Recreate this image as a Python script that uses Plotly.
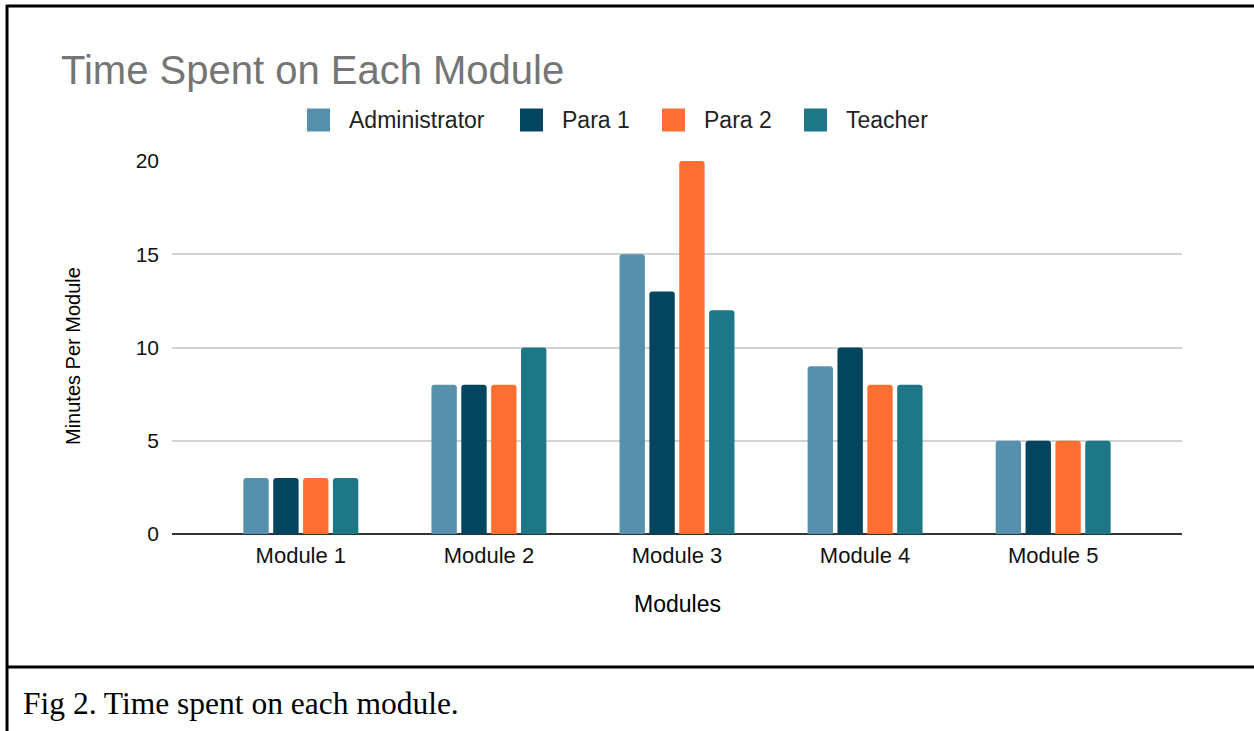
import plotly.graph_objects as go

# Chart data
modules = ["Module 1", "Module 2", "Module 3", "Module 4", "Module 5"]
roles = ["Administrator", "Para 1", "Para 2", "Teacher"]
administrator = [3, 8, 15, 9, 5]
para_1 = [3, 8, 13, 10, 5]
para_2 = [3, 8, 20, 8, 5]
teacher = [3, 10, 12, 8, 5]
y_ticks = [0, 5, 10, 15, 20]

series = [administrator, para_1, para_2, teacher]
colors = ["#5790ad", "#03445f", "#ff6f31", "#1e7786"]

W, H = 1254, 731
PL, PR, PT, PB = 172, 1182, 161, 534  # plot-area box in pixels

def px_x(x):
    return (x - PL) / (PR - PL)

def px_y(y):
    return (PB - y) / (PB - PT)

FONT = "Liberation Sans, Arial, sans-serif"

fig = go.Figure()
for name, vals, col in zip(roles, series, colors):
    fig.add_trace(go.Bar(x=modules, y=vals, name=name, marker_color=col,
                         marker_line_width=0, showlegend=False))

shapes = []
annotations = []

# Legend row: colour swatches and labels
legend_sq_x = [307, 520, 662, 804]
legend_txt_x = [347, 560, 702, 844]
legend_cy = 120
for name, col, sx, tx in zip(roles, colors, legend_sq_x, legend_txt_x):
    shapes.append(dict(type="rect", xref="paper", yref="paper",
                       x0=px_x(sx), x1=px_x(sx + 23),
                       y0=px_y(legend_cy + 11.5), y1=px_y(legend_cy - 11.5),
                       fillcolor=col, line_width=0))
    annotations.append(dict(text=name, xref="paper", yref="paper",
                            x=px_x(tx), y=px_y(legend_cy), xanchor="left",
                            yanchor="middle", showarrow=False,
                            font=dict(family=FONT, size=23, color="#222222")))

# Axis titles
annotations.append(dict(text="Minutes Per Module", xref="paper", yref="paper",
                        x=px_x(73), y=px_y(356), textangle=-90,
                        xanchor="center", yanchor="middle", showarrow=False,
                        font=dict(family=FONT, size=20, color="#000000")))
annotations.append(dict(text="Modules", xref="paper", yref="paper",
                        x=px_x(677), y=px_y(604), xanchor="center",
                        yanchor="middle", showarrow=False,
                        font=dict(family=FONT, size=23, color="#000000")))

# Figure caption below the frame
annotations.append(dict(text="Fig 2. Time spent on each module.", xref="paper",
                        yref="paper", x=px_x(21), y=px_y(703),
                        xanchor="left", yanchor="middle", showarrow=False,
                        font=dict(family="Liberation Serif, Times New Roman, serif",
                                  size=31.5, color="#000000")))

# Frame lines around the chart
frame = dict(color="#000000", width=3)
shapes.append(dict(type="line", xref="paper", yref="paper",
                   x0=px_x(6), x1=px_x(W + 5), y0=px_y(6), y1=px_y(6), line=frame))
shapes.append(dict(type="line", xref="paper", yref="paper",
                   x0=px_x(7), x1=px_x(7), y0=px_y(5), y1=px_y(H + 5), line=frame))
shapes.append(dict(type="line", xref="paper", yref="paper",
                   x0=px_x(6), x1=px_x(W + 5), y0=px_y(667), y1=px_y(667), line=frame))

fig.update_layout(
    width=W, height=H,
    margin=dict(l=PL, r=W - PR, t=PT, b=H - PB, pad=0),
    paper_bgcolor="white", plot_bgcolor="white",
    barmode="group", bargap=0.365, bargroupgap=0.15, barcornerradius=3,
    title=dict(text="Time Spent on Each Module", xref="container", yref="container",
               x=61 / W, xanchor="left", y=1 - 70 / H, yanchor="middle",
               font=dict(family=FONT, size=40, color="#757575")),
    font=dict(family=FONT, color="#222222"),
    shapes=shapes, annotations=annotations,
    xaxis=dict(range=[-0.685, 4.685], showgrid=False, zeroline=False,
               showline=False, ticks="", ticklabelstandoff=6,
               tickfont=dict(family=FONT, size=22, color="#111111")),
    yaxis=dict(range=[0, 20], tickvals=y_ticks, showgrid=True,
               gridcolor="#d3d3d3", gridwidth=1.5, zeroline=True,
               zerolinecolor="#333333", zerolinewidth=2, showline=False,
               ticks="", ticklabelstandoff=12,
               tickfont=dict(family=FONT, size=21, color="#111111")),
)

fig.write_html("out.html")
